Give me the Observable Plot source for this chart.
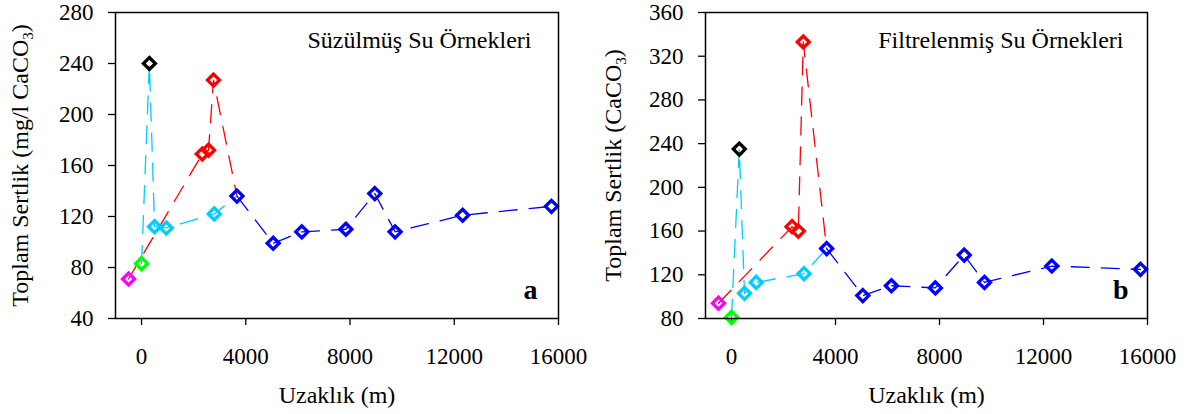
<!DOCTYPE html>
<html><head><meta charset="utf-8">
<script src="https://cdn.jsdelivr.net/npm/d3@7"></script>
<script src="https://cdn.jsdelivr.net/npm/@observablehq/plot@0.6"></script>
<style>
html,body{margin:0;padding:0;background:#fff;}
#wrap{display:flex;width:1187px;height:414px;overflow:hidden;}
svg{display:block;}
svg text, svg tspan{font-family:"Liberation Serif","Times New Roman",serif !important;}
</style></head><body><div id="wrap"></div>
<script>
// Sampling distance (m) of each station (shared by both panels)
const distance = [-500, 0, 300, 500, 950, 2790, 2330, 2570, 2760, 3660, 5050, 6150, 7840, 8950, 9730, 12320, 15730];
// Station group (marker colour)
const stationGroup = ["magenta", "green", "black", "cyan", "cyan", "cyan", "red", "red", "red",
  "blue", "blue", "blue", "blue", "blue", "blue", "blue", "blue"];
// Panel a: Süzülmüş Su Örnekleri (mg/l CaCO3)
const hardnessA = [71, 83, 240, 112, 111, 122, 169, 172, 227, 136, 99, 108, 110, 138, 108, 121, 128];
// Panel b: Filtrelenmiş Su Örnekleri (CaCO3)
const hardnessB = [94, 81, 235, 103, 113, 121, 164, 160, 333, 144, 101, 110, 108, 138, 113, 128, 125];
// Connecting dashed paths (station indices)
const redPath = [0, 6, 7, 8, 9];
const cyanPath = [1, 2, 3, 4, 5, 9];
const bluePath = [9, 10, 11, 12, 13, 14, 15, 16];
const groupColors = {magenta: "#FF00FF", green: "#00FF00", black: "#000000", cyan: "#00CCFF", red: "#FF0000", blue: "#0000FF"};
const xTicks = [0, 4000, 8000, 12000, 16000];
const yTicksA = [40, 80, 120, 160, 200, 240, 280];
const yTicksB = [80, 120, 160, 200, 240, 280, 320, 360];

const FONT = "Liberation Serif, Times New Roman, serif";

function panel({values, yDomain, yTicks, yLabel, title, titleDx, letter, letterDx, width, marginLeft, marginRight}) {
  const pts = distance.map((d, i) => ({x: d, y: values[i], c: groupColors[stationGroup[i]]}));
  const path = (idx) => idx.map(i => pts[i]);
  const dash = {x: "x", y: "y", strokeWidth: 1.3, strokeDasharray: "18,12"};
  const svg = Plot.plot({
    width, height: 414, marginLeft, marginRight, marginTop: 12, marginBottom: 96,
    style: {fontFamily: FONT, fontSize: "23px", color: "#000", background: "#fff", overflow: "visible"},
    x: {domain: [-1000, 16000]},
    y: {domain: yDomain},
    color: {type: "identity"},
    marks: [
      Plot.axisX({ticks: xTicks, tickSize: 7, tickPadding: 22, tickFormat: d => String(d), label: null, strokeWidth: 1.3, fontSize: 23}),
      Plot.axisY({ticks: yTicks, tickSize: 7, tickPadding: 15, tickFormat: d => String(d), label: null, strokeWidth: 1.3, fontSize: 23}),
      Plot.line(path(redPath), {...dash, stroke: groupColors.red}),
      Plot.line(path(cyanPath), {...dash, stroke: groupColors.cyan}),
      Plot.line(path(bluePath), {...dash, stroke: groupColors.blue}),
      Plot.dot(pts, {x: "x", y: "y", stroke: "c", symbol: "diamond2", r: 5.4, strokeWidth: 3.3, fill: "none"}),
      Plot.frame({stroke: "#000", strokeWidth: 1.5}),
      Plot.text([title], {frameAnchor: "top-right", textAnchor: "end", dx: titleDx, dy: 35, lineAnchor: "bottom", fontSize: 24}),
      Plot.text([letter], {frameAnchor: "bottom-right", textAnchor: "end", dx: letterDx, dy: -20, lineAnchor: "bottom", fontSize: 28, fontWeight: "bold"}),
      Plot.text(["Uzaklık (m)"], {frameAnchor: "bottom", textAnchor: "middle", dy: 84, lineAnchor: "bottom", fontSize: 24}),
      Plot.text([yLabel], {frameAnchor: "left", textAnchor: "middle", dx: -(marginLeft - 27), rotate: -90, lineAnchor: "bottom", fontSize: 24})
    ]
  });
  // subscript the 3 in CaCO3
  svg.querySelectorAll("text").forEach(t => {
    const s = t.textContent;
    if (s.endsWith("CaCO3)")) {
      const base = s.slice(0, -2);
      while (t.firstChild) t.removeChild(t.firstChild);
      const ns = "http://www.w3.org/2000/svg";
      const a = document.createElementNS(ns, "tspan"); a.textContent = base;
      const b = document.createElementNS(ns, "tspan"); b.textContent = "3"; b.setAttribute("dy", "5"); b.setAttribute("font-size", "15");
      const c = document.createElementNS(ns, "tspan"); c.textContent = ")"; c.setAttribute("dy", "-5");
      t.append(a, b, c);
    }
  });
  return svg;
}

const wrap = document.getElementById("wrap");
wrap.append(panel({
  values: hardnessA, yDomain: [40, 280], yTicks: yTicksA,
  yLabel: "Toplam Sertlik (mg/l CaCO3)", title: "Süzülmüş Su Örnekleri", titleDx: -27,
  letter: "a", letterDx: -21, width: 593, marginLeft: 115, marginRight: 35
}));
wrap.append(panel({
  values: hardnessB, yDomain: [80, 360], yTicks: yTicksB,
  yLabel: "Toplam Sertlik (CaCO3)", title: "Filtrelenmiş Su Örnekleri", titleDx: -24,
  letter: "b", letterDx: -19, width: 594, marginLeft: 112, marginRight: 40
}));
</script>
</body></html>
